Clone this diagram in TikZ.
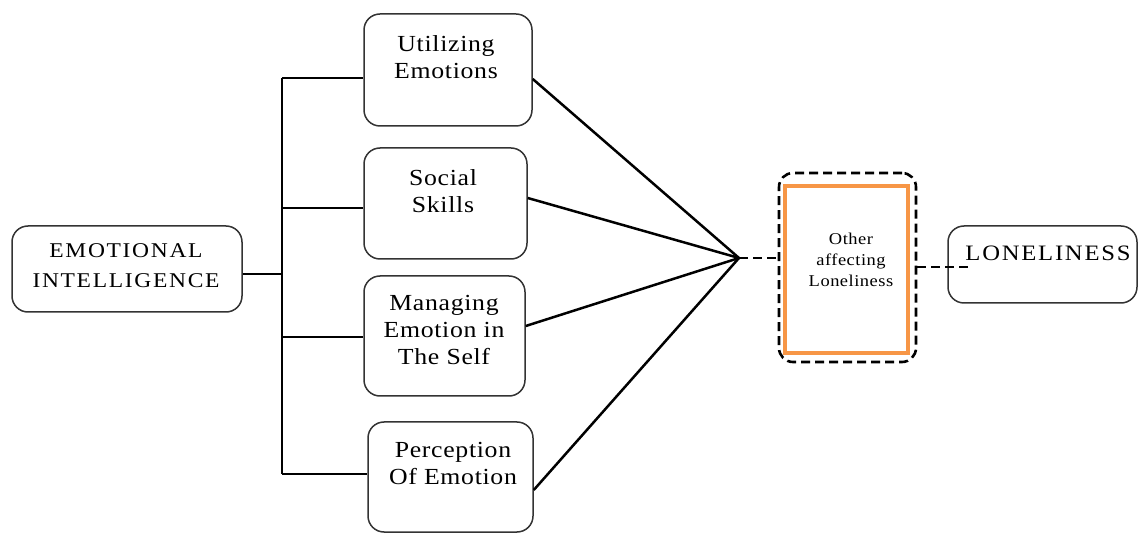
\documentclass[tikz,border=0pt]{standalone}
\usepackage{fontspec}
\setmainfont{Liberation Serif}[LetterSpace=3,FakeStretch=1.12]
\newfontfamily\capsfont{Liberation Serif}[LetterSpace=8,FakeStretch=1.12]
\definecolor{boxorange}{HTML}{F79646}
\begin{document}
\begin{tikzpicture}[x=1pt,y=-1pt,
  rbox/.style={draw=black!80, line width=1.5pt, rounded corners=16pt, inner sep=0pt},
  lbl/.style={align=center, inner sep=0pt, font=\fontsize{23}{27}\selectfont},
  conn/.style={line width=2.5pt, black},
  dconn/.style={line width=2.6pt, black, dash pattern=on 9pt off 5pt}]
\useasboundingbox (0,0) rectangle (1138,534);
% boxes
\node[rbox, minimum width=230pt, minimum height=86pt] (ei) at (127,269) {};
\node[lbl, font=\capsfont\fontsize{21}{30}\selectfont] (eit) at (126,266) {EMOTIONAL\\INTELLIGENCE};
\node[rbox, minimum width=168pt, minimum height=112pt] (ue) at (448,70) {};
\node[lbl] (uet) at (446,57) {Utilizing\\Emotions};
\node[rbox, minimum width=163pt, minimum height=111pt] (ss) at (445.5,203.5) {};
\node[lbl] (sst) at (443,191) {Social\\Skills};
\node[rbox, minimum width=161pt, minimum height=120pt] (me) at (444.5,336) {};
\node[lbl] (met) at (444,330) {Managing\\Emotion in\\The Self};
\node[rbox, minimum width=165pt, minimum height=110pt] (pe) at (450.5,477) {};
\node[lbl] (pet) at (453,463) {Perception\\Of Emotion};
% other affecting
\node[draw, dash pattern=on 9pt off 5pt, line width=2.6pt, rounded corners=14pt, minimum width=137pt, minimum height=189pt, inner sep=0pt] (oa) at (847.5,267.5) {};
\node[draw=boxorange, line width=3.2pt, minimum width=123pt, minimum height=167pt, inner sep=0pt] (oao) at (846.5,269.5) {};
\node[align=center, inner sep=0pt, font=\fontsize{16.5}{21}\selectfont] (oat) at (851,260) {Other\\affecting\\Loneliness};
% loneliness
\node[rbox, minimum width=189pt, minimum height=77pt] (lo) at (1042.5,264.5) {};
\node[lbl, font=\capsfont\fontsize{22}{27}\selectfont] (lot) at (1048,253) {LONELINESS};
% bus
\coordinate (bt) at (282,78);
\coordinate (bm) at (282,274);
\coordinate (bb) at (282,474);
\coordinate (cv) at (739,258);
\draw[conn] (ei.east |- bm) -- (bm);
\draw[conn] (bt) -- (bb);
\draw[conn] (bt) -- (ue.west |- bt);
\draw[conn] (282,208) coordinate (b2) -- (ss.west |- b2);
\draw[conn] (282,337) coordinate (b3) -- (me.west |- b3);
\draw[conn] (bb) -- (pe.west |- bb);
% converging lines
\draw[conn] (ue.east |- 0,79) -- (cv);
\draw[conn] (ss.east |- 0,198) -- (cv);
\draw[conn] (me.east |- 0,326) -- (cv);
\draw[conn] (pe.east |- 0,490) -- (cv);
% dashed
\draw[dconn] (cv) -- (oa.west |- cv);
\coordinate (le) at (968,267);
\draw[dconn] (oa.east |- le) -- (le);
\end{tikzpicture}
\end{document}
